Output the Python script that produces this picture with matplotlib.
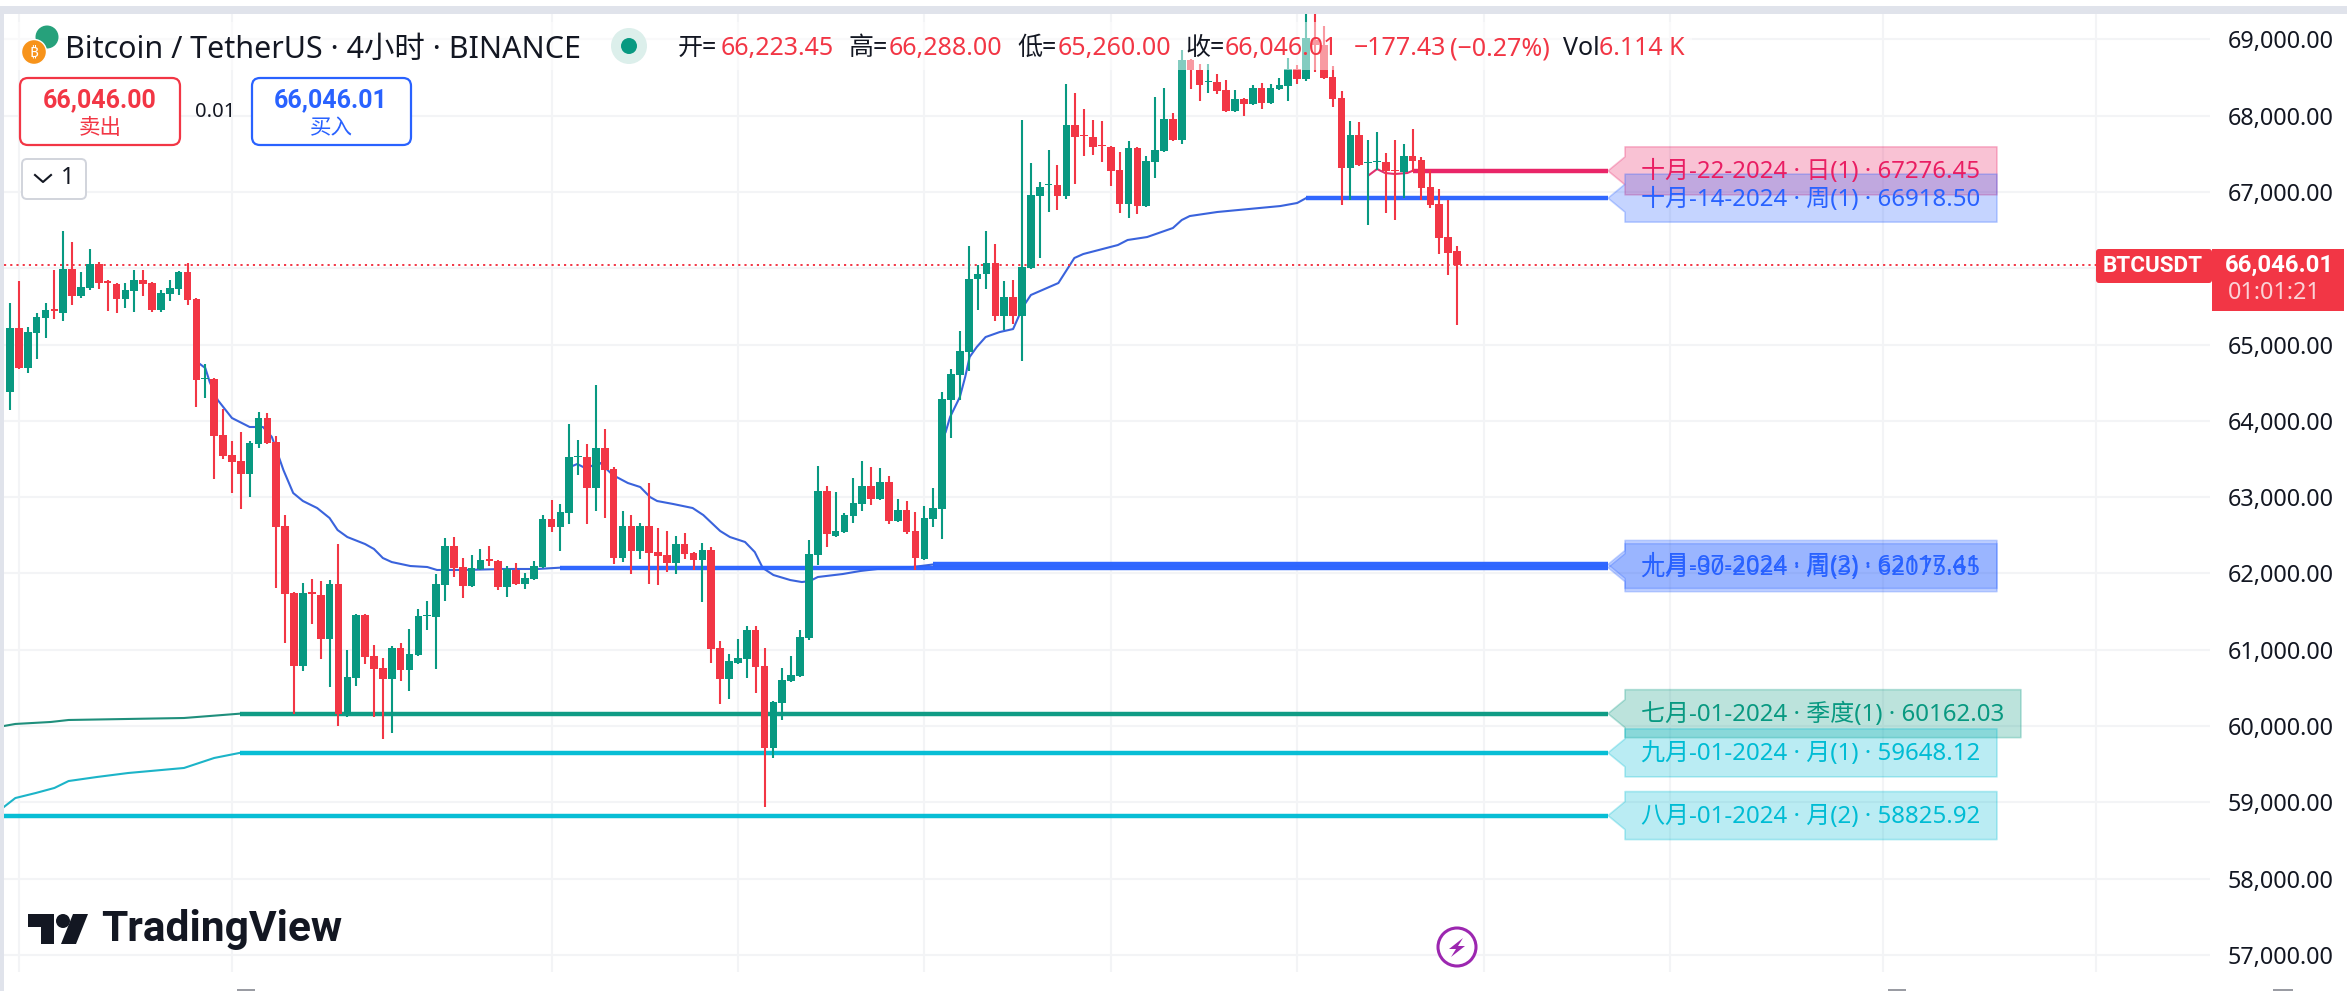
import matplotlib
matplotlib.use('Agg')
import matplotlib.pyplot as plt
from matplotlib.patches import Circle, FancyBboxPatch, Polygon, Rectangle
import numpy as np

plt.rcParams['font.family'] = ['Noto Sans', 'Noto Sans CJK SC', 'DejaVu Sans']
BOLD_FONT = ['Roboto', 'Noto Sans CJK SC', 'DejaVu Sans']

###### candles (4h BTCUSDT)
opens = [64377, 65216, 64692, 65151, 65347, 65465, 65413, 65989, 65636, 65740,
         66055, 65832, 65793, 65596, 65701, 65845, 65806, 65452, 65662, 65727,
         65950, 65596, 64548, 64548, 63814, 63552, 63473, 63303, 63696, 64037,
         63722, 62621, 61743, 60786, 61756, 61717, 61140, 61861, 60157, 60629,
         61455, 60917, 60760, 60616, 61022, 60734, 60931, 61442, 61429, 61848,
         62359, 62084, 61835, 62058, 62189, 62163, 61822, 62045, 61861, 61927,
         62084, 62713, 62608, 62792, 63526, 63526, 63119, 63644, 63368, 62202,
         62621, 62294, 62621, 62280, 62241, 62136, 62385, 62267, 62176, 62307,
         61022, 60616, 60826, 60878, 61258, 60786, 59712, 60301, 60590, 60655,
         61153, 62241, 63080, 62490, 62542, 62752, 62910, 63145, 62975, 63198,
         62687, 62831, 62556, 62189, 62713, 62844, 64273, 64600, 64902, 65858,
         65924, 66068, 65374, 65623, 65374, 66003, 66946, 67090, 67090, 66946,
         67877, 67746, 67720, 67615, 67588, 67287, 66841, 67575, 66815, 67392,
         67536, 67955, 67680, 68729, 68598, 68440, 68440, 68335, 68060, 68217,
         68152, 68362, 68165, 68349, 68388, 68611, 68480, 68991, 68925, 68506,
         68231, 67313, 67746, 67379, 67392, 67392, 67287, 67261, 67471, 67418,
         67064, 66841, 66409, 66223.45]
highs = [65544, 65832, 65229, 65413, 65544, 65976, 66488, 66343, 65950, 66252,
         66081, 65840, 65806, 65806, 65976, 65976, 65820, 65714, 65845, 65963,
         66068, 65609, 64744, 64561, 64155, 63735, 63853, 63735, 64115, 64102,
         63801, 62765, 61756, 61874, 61927, 61900, 61914, 62385, 60996, 61470,
         61468, 61062, 60891, 61049, 61088, 61271, 61533, 61638, 61992, 62464,
         62477, 62202, 62241, 62320, 62359, 62170, 62097, 62136, 62005, 62163,
         62765, 62962, 62910, 63958, 63748, 63696, 64469, 63893, 63394, 62818,
         62765, 62661, 63185, 62595, 62556, 62490, 62530, 62280, 62398, 62346,
         61114, 60944, 61140, 61311, 61311, 61022, 60328, 60760, 60917, 61258,
         62438, 63408, 63145, 63067, 62792, 63250, 63473, 63394, 63381, 63277,
         62975, 62949, 62805, 62883, 63119, 64377, 64679, 65177, 66291, 66042,
         66488, 66317, 65832, 65845, 67942, 67379, 67130, 67549, 67353, 68414,
         68296, 68086, 67942, 67929, 67600, 67523, 67667, 67590, 67471, 68244,
         68362, 68034, 68860, 68740, 68676, 68676, 68545, 68467, 68335, 68230,
         68401, 68427, 68414, 68493, 68755, 68663, 69350, 69350, 69174, 68650,
         68322, 67929, 67916, 67680, 67785, 67510, 67680, 67628, 67824, 67457,
         67287, 67038, 66894, 66288]
lows = [64142, 64679, 64626, 64810, 65085, 65334, 65308, 65518, 65609, 65714,
        65727, 65439, 65413, 65478, 65426, 65636, 65426, 65426, 65570, 65649,
        65518, 64181, 64299, 63237, 63499, 63054, 62844, 63001, 63644, 63696,
        61809, 61088, 60157, 60721, 61337, 60878, 60511, 60000, 60118, 60524,
        60813, 60118, 59830, 59908, 60590, 60459, 60920, 61258, 60747, 61638,
        61953, 61678, 61822, 62050, 62097, 61782, 61691, 61850, 61796, 61914,
        62075, 62543, 62294, 62647, 63290, 62647, 62818, 62726, 62123, 62149,
        61992, 62189, 61861, 61848, 62018, 61992, 62189, 62045, 61625, 60826,
        60288, 60354, 60813, 60629, 60432, 58938, 59581, 60079, 60577, 60642,
        61127, 62110, 62346, 62477, 62530, 62661, 62818, 62897, 62965, 62647,
        62677, 62516, 62045, 62176, 62608, 62451, 63775, 64273, 64653, 65452,
        65727, 65308, 65190, 65269, 64784, 65990, 66134, 66737, 66763, 66907,
        67103, 67471, 67484, 67392, 67077, 66724, 66658, 66710, 66805, 67182,
        67525, 67667, 67628, 68349, 68191, 68296, 68283, 68050, 68050, 67995,
        68140, 68086, 68155, 68340, 68191, 68414, 68453, 68571, 68480, 68113,
        66828, 66894, 67340, 66566, 67287, 66724, 66632, 66920, 67261, 66894,
        66789, 66186, 65911, 65260]
closes = [65216, 64692, 65164, 65360, 65452, 65439, 65989, 65636, 65754, 66055,
          65806, 65806, 65596, 65714, 65845, 65793, 65452, 65675, 65740, 65950,
          65583, 64535, 64561, 63801, 63539, 63460, 63303, 63709, 64037, 63709,
          62608, 61730, 60786, 61743, 61730, 61140, 61861, 60157, 60642, 61455,
          60904, 60747, 60616, 61022, 60734, 60944, 61442, 61455, 61861, 62359,
          62071, 61835, 62071, 62176, 62163, 61822, 62058, 61861, 61940, 62097,
          62713, 62608, 62805, 63526, 63539, 63119, 63644, 63355, 62202, 62621,
          62294, 62621, 62267, 62228, 62136, 62385, 62254, 62176, 62307, 61009,
          60616, 60852, 60891, 61258, 60773, 59712, 60315, 60603, 60668, 61166,
          62254, 63080, 62516, 62556, 62765, 62923, 63145, 62975, 63198, 62687,
          62831, 62542, 62202, 62726, 62857, 64286, 64613, 64915, 65858, 65924,
          66068, 65374, 65623, 65374, 66016, 66959, 67064, 67103, 66946, 67877,
          67720, 67733, 67588, 67602, 67274, 66841, 67575, 66815, 67405, 67549,
          67955, 67680, 68729, 68598, 68401, 68453, 68322, 68060, 68217, 68152,
          68362, 68165, 68362, 68401, 68611, 68480, 69017, 68925, 68493, 68217,
          67313, 67746, 67353, 67392, 67405, 67274, 67274, 67471, 67405, 67051,
          66828, 66396, 66199, 66046.01]

###### anchored curves: bar position, price
curve_a_x = [21.4, 22.0, 22.5, 23.4, 25.0, 27.0, 28.5, 29.5, 30.8, 31.9, 33.0, 34.6, 36.0, 36.9,
             38.0, 40.0, 41.0, 42.0, 43.0, 45.1, 47.0, 48.1, 51.0, 55.5, 59.4, 62.0]
curve_a_p = [64744, 64692, 64508, 64273, 64037, 63919, 63919, 63788, 63355, 63054, 62949, 62857,
             62726, 62569, 62477, 62385, 62320, 62202, 62149, 62097, 62084, 62045, 62045, 62058,
             62058, 62075.65]
curve_b_x = [63.1, 63.9, 64.8, 66.5, 67.9, 69.6, 71.0, 72.1, 72.9, 74.7, 76.9, 78.1, 80.0, 81.1,
             82.8, 83.9, 84.8, 86.0, 87.9, 89.2, 90.1, 91.0, 93.8, 95.8, 97.7, 101.7, 104.0]
curve_b_p = [63395, 63434, 63381, 63447, 63290, 63185, 63132, 63001, 62949, 62910, 62857, 62765,
             62556, 62477, 62412, 62280, 62071, 61979, 61913, 61887, 61900, 61953, 61992, 62032,
             62058, 62084, 62117.41]
curve_c_x = [105.4, 105.9, 107.0, 107.6, 108.1, 108.9, 109.9, 111.5, 113.0, 114.1, 115.0, 118.1,
             119.9, 120.9, 124.8, 125.9, 128.1, 131.0, 132.0, 132.9, 136.0, 143.1, 145.0, 146.0]
curve_c_p = [63853, 64050, 64312, 64574, 64836, 64967, 65098, 65164, 65203, 65491, 65649, 65806,
             66134, 66186, 66304, 66370, 66409, 66527, 66632, 66684, 66737, 66815, 66855, 66918.5]
curve_d_x = [153.1, 154.0, 154.9, 156.0, 157.4, 158.0]
curve_d_p = [67222, 67300, 67248, 67235, 67248, 67276.45]
curve_e_x = [-0.7, 0.6, 4.6, 6.6, 19.6, 25.9]
curve_e_p = [60000, 60027, 60053, 60079, 60105, 60162.03]
curve_f_x = [-0.7, 0.6, 2.9, 5.0, 6.6, 9.8, 13.3, 19.6, 23.0, 25.9]
curve_f_p = [58938, 59056, 59122, 59188, 59279, 59332, 59384, 59450, 59581, 59648.12]

###### level lines
level_prices = [67276.45, 66918.50, 62075.65, 62117.41, 60162.03, 59648.12, 58825.92]
level_starts = [158.0, 146.0, 62.0, 104.0, 25.9, 25.9, -0.7]
level_labels = ['十月-22-2024 · 日(1) · 67276.45', '十月-14-2024 · 周(1) · 66918.50',
                '九月-30-2024 · 周(3) · 62075.65', '十月-07-2024 · 周(2) · 62117.41',
                '七月-01-2024 · 季度(1) · 60162.03', '九月-01-2024 · 月(1) · 59648.12',
                '八月-01-2024 · 月(2) · 58825.92']
level_colors = ['#e91e63', '#2962ff', '#2962ff', '#2962ff', '#089981', '#00bcd4', '#00bcd4']
level_right = [1997, 1997, 1997, 1997, 2021, 1997, 1997]

grid_bars = [1, 25, 61, 82, 103, 124, 145, 166, 187, 211, 235]
price_ticks = list(range(57000, 70000, 1000))
last_price = 66046.01

UP = '#089981'
DOWN = '#f23645'
W, H = 2347, 991

fig = plt.figure(figsize=(W / 100, H / 100), dpi=100, facecolor='white')
ax = fig.add_axes([4 / W, (H - 972) / H, (2210 - 4) / W, (972 - 14) / H])
ax.set_xlim(-0.676, 247.83)
ax.set_ylim(56776, 69332)
for s in ax.spines.values():
    s.set_visible(False)
ax.set_xticks(grid_bars)
ax.set_xticklabels([])
ax.set_yticks(price_ticks)
ax.set_yticklabels([f'{p:,.2f}' for p in price_ticks], fontsize=16.8, color='#131722')
ax.yaxis.tick_right()
ax.tick_params(length=0, pad=13)
ax.grid(True, color='#f3f4f6', lw=1.5)
ax.set_axisbelow(True)

# curves and level lines
for cx, cp, col in [(curve_a_x, curve_a_p, '#3a63dc'), (curve_b_x, curve_b_p, '#3a63dc'),
                    (curve_c_x, curve_c_p, '#3a63dc'), (curve_d_x, curve_d_p, '#e0306e'),
                    (curve_e_x, curve_e_p, '#1f8f7c'), (curve_f_x, curve_f_p, '#1cb4c8')]:
    ax.plot(cx, cp, color=col, lw=1.5, zorder=2)
for p, st, col in zip(level_prices, level_starts, level_colors):
    ax.plot([st, 180], [p, p], color=col, lw=3.2, solid_capstyle='butt', zorder=2.2, alpha=0.97)

ax.axhline(last_price, xmax=(2096 - 4) / (2210 - 4), color=DOWN, lw=1.4, ls=(0, (1.1, 2.1)), zorder=2.5)

# candles
opens, highs, lows, closes = map(np.array, (opens, highs, lows, closes))
bars = np.arange(len(opens))
cols = np.where(closes >= opens, UP, DOWN)
ax.vlines(bars, lows, highs, colors=cols, lw=1.5, zorder=3)
ax.bar(bars, np.abs(closes - opens) + 8, bottom=np.minimum(opens, closes) - 4, width=0.86,
       color=cols, zorder=3.1)

###### overlay in pixel coords for the tradingview ui bits
ui = fig.add_axes([0, 0, 1, 1], facecolor='none', zorder=5)
ui.set_xlim(0, W)
ui.set_ylim(H, 0)
ui.axis('off')


def py(price):
    # pixel row of a price, through the chart axes scale
    disp = ax.transData.transform((0, price))
    return ui.transData.inverted().transform(disp)[1]


def box(x0, y0, x1, y1, fc, ec, lw=1.5, r=8):
    ui.add_patch(FancyBboxPatch((x0 + r, y0 + r), x1 - x0 - 2 * r, y1 - y0 - 2 * r,
                                boxstyle=f'round,pad={r},rounding_size={r}', fc=fc, ec=ec, lw=lw))


# frame strips
ui.add_patch(Rectangle((0, 6), W, 8, fc='#e0e3eb', ec='none'))
ui.add_patch(Rectangle((0, 6), 4, H, fc='#e0e3eb', ec='none'))

# legend row background
ui.add_patch(Rectangle((4, 22), 1688, 48, fc='white', ec='none', alpha=0.5))

ui.add_patch(Circle((47, 37), 11.5, fc='#26a17b', ec='none'))
ui.add_patch(Circle((34, 52), 12.5, fc='#f7931a', ec='white', lw=1))
ui.text(34, 52, '₿', color='white', fontsize=11, ha='center', va='center', weight='bold',
        family=['Roboto', 'Open Sans', 'Noto Sans', 'Inter', 'Lato', 'Liberation Sans', 'DejaVu Sans'])
ui.text(65, 49.5, 'Bitcoin / TetherUS · 4小时 · BINANCE', fontsize=21.9, color='#131722', va='center')
ui.add_patch(Circle((629, 46), 18, fc='#dcefeb', ec='none'))
ui.add_patch(Circle((629, 46), 8, fc=UP, ec='none'))

legend_bits = [(678, '开=', '#131722'), (721, '66,223.45', DOWN), (848, '高=', '#131722'),
               (889, '66,288.00', DOWN), (1017, '低=', '#131722'), (1058, '65,260.00', DOWN),
               (1185, '收=', '#131722'), (1225, '66,046.01', DOWN), (1354, '−177.43', DOWN),
               (1450, '(−0.27%)', DOWN), (1563, 'Vol', '#131722'), (1599, '6.114 K', DOWN)]
for lx, txt, col in legend_bits:
    ui.text(lx, 48.5, txt, fontsize=18, color=col, va='center')

# buy / sell boxes
box(20, 78, 180, 145, 'white', DOWN, lw=1.6)
ui.text(100, 100, '66,046.00', color=DOWN, fontsize=18, weight='bold', ha='center', va='center', family=BOLD_FONT)
ui.text(100, 129, '卖出', color=DOWN, fontsize=15.5, ha='center', va='center')
ui.text(215, 112, '0.01', color='#131722', fontsize=14.5, ha='center', va='center')
box(252, 78, 411, 145, 'white', '#2962ff', lw=1.6)
ui.text(331, 100, '66,046.01', color='#2962ff', fontsize=18, weight='bold', ha='center', va='center', family=BOLD_FONT)
ui.text(331, 129, '买入', color='#2962ff', fontsize=15.5, ha='center', va='center')
box(22, 159, 86, 199, 'white', '#d1d4dc', lw=1.4, r=5)
ui.plot([35, 43, 51], [175, 182, 175], color='#131722', lw=1.5)
ui.text(68, 178, '1', color='#131722', fontsize=17, ha='center', va='center')

# level tags
for p, lab, col, xr in zip(level_prices, level_labels, level_colors, level_right):
    c = py(p)
    t, b = c - 24, c + 24
    ui.add_patch(Polygon([(1608, c), (1625, c - 14), (1625, t), (xr, t), (xr, b), (1625, b), (1625, c + 14)],
                         closed=True, fc=col, ec=col, lw=1.2, alpha=0.27, joinstyle='round'))
    ui.text(1641, c + 1.5, lab, color=col, fontsize=17.3, va='center')

# price tags on the right
ui.add_patch(FancyBboxPatch((2099, 252), 110, 28, boxstyle='round,pad=3,rounding_size=3', fc=DOWN, ec='none'))
ui.text(2153, 266, 'BTCUSDT', color='white', fontsize=16.2, ha='center', va='center', weight='bold', family=BOLD_FONT)
ui.add_patch(Rectangle((2212, 249), 132, 62, fc=DOWN, ec='none'))
ui.text(2279, 265, '66,046.01', color='white', fontsize=17.3, ha='center', va='center', weight='bold', family=BOLD_FONT)
ui.text(2228, 293, '01:01:21', color='#fbd3d7', fontsize=16.8, ha='left', va='center')

# tradingview logo
logo = '#131722'
ui.add_patch(Polygon([(28, 914), (54, 914), (54, 944), (41, 944), (41, 927), (28, 927)], fc=logo, ec='none'))
ui.add_patch(Circle((63, 921), 7, fc=logo, ec='none'))
ui.add_patch(Polygon([(73, 914), (88, 914), (76, 944), (61, 944)], fc=logo, ec='none'))
ui.text(101, 930, 'TradingView', color=logo, fontsize=30.6, weight='bold', va='center', family=BOLD_FONT)

# lightning mark
ui.add_patch(Circle((1457, 947), 19, fc='white', ec='#9c27b0', lw=2.2))
ui.add_patch(Polygon([(1463, 938), (1449, 949), (1456, 949), (1451, 957), (1465, 946), (1458, 946)],
                     fc='#9c27b0', ec='none'))

# clipped tops of the time axis labels
for x0, x1 in [(237, 255), (1888, 1906), (2273, 2293)]:
    ui.add_patch(Rectangle((x0, 989), x1 - x0, 2, fc='#9a9ca3', ec='none'))

fig.savefig('out.png', dpi=100)
